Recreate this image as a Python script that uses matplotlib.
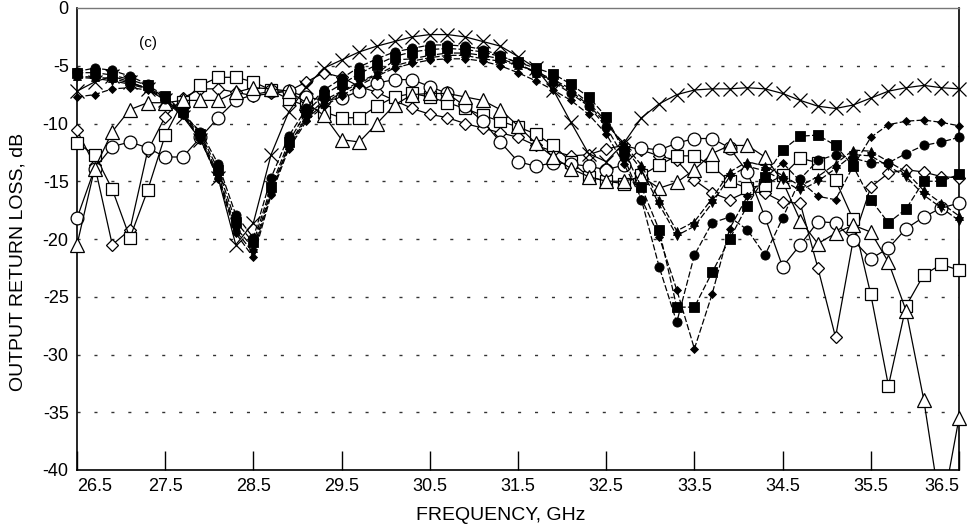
import numpy as np
import matplotlib
matplotlib.use("Agg")
import matplotlib.pyplot as plt
from matplotlib.patches import Rectangle

plt.rcParams['font.family'] = ['Liberation Sans', 'DejaVu Sans']
plt.rcParams['axes.unicode_minus'] = False

freq = np.round(np.arange(26.5, 36.55, 0.2), 1)

open_cross = [-7.2,-6.4,-5.9,-6.4,-7.0,-8.0,-9.4,-11.4,-14.7,-20.5,
              -18.6,-12.7,-9.0,-6.8,-5.2,-4.5,-3.8,-3.3,-2.9,-2.5,
              -2.3,-2.3,-2.5,-2.9,-3.3,-4.2,-5.2,-7.1,-9.9,-12.6,
              -13.3,-11.7,-9.5,-8.3,-7.5,-7.1,-7.0,-7.0,-6.9,-7.0,
              -7.4,-8.0,-8.5,-8.7,-8.4,-7.8,-7.2,-6.9,-6.7,-6.9,
              -7.0]
open_circle = [-18.2,-13.9,-12.0,-11.6,-12.1,-12.9,-12.9,-11.2,-9.5,-8.0,
               -7.5,-7.2,-7.2,-7.7,-8.0,-7.8,-7.2,-6.5,-6.2,-6.2,
               -6.8,-7.4,-8.5,-9.8,-11.6,-13.3,-13.7,-13.4,-13.5,-13.7,
               -14.0,-13.6,-12.1,-12.3,-11.7,-11.3,-11.3,-12.1,-14.2,-18.1,
               -22.4,-20.5,-18.5,-18.6,-20.1,-21.7,-20.8,-19.1,-18.1,-17.3,
               -16.9]
open_square = [-11.7,-12.7,-15.7,-19.9,-15.8,-11.0,-8.1,-6.7,-6.0,-6.0,
               -6.4,-7.1,-7.9,-8.5,-9.0,-9.5,-9.5,-8.5,-7.7,-7.4,
               -7.7,-8.2,-8.7,-9.3,-9.8,-10.3,-10.9,-11.9,-13.3,-14.6,
               -15.0,-15.2,-14.5,-13.6,-12.8,-12.8,-13.7,-15.0,-15.6,-15.3,
               -14.5,-13.0,-13.4,-14.9,-18.3,-24.8,-32.7,-25.8,-23.1,-22.2,
               -22.7]
open_triangle = [-20.5,-13.9,-10.7,-8.8,-8.2,-8.2,-8.0,-8.0,-8.0,-7.3,
                 -6.9,-7.0,-7.2,-8.2,-9.3,-11.4,-11.6,-10.0,-8.4,-7.5,
                 -7.4,-7.4,-7.7,-8.0,-8.8,-10.2,-11.7,-12.9,-13.9,-14.6,
                 -15.0,-15.0,-14.6,-15.6,-15.1,-14.0,-12.6,-11.9,-11.9,-12.9,
                 -15.0,-18.4,-20.4,-19.5,-18.8,-19.4,-22.0,-26.2,-33.9,-43.8,
                 -35.5]
open_diamond = [-10.6,-13.6,-20.5,-19.2,-12.4,-9.4,-7.8,-7.0,-7.0,-7.3,
                -7.6,-7.4,-7.2,-6.4,-5.6,-6.0,-6.8,-7.3,-8.0,-8.7,
                -9.2,-9.5,-10.0,-10.4,-10.8,-11.2,-11.9,-12.4,-12.8,-12.7,
                -12.2,-11.9,-12.3,-12.8,-13.2,-14.9,-16.0,-16.6,-15.9,-16.0,
                -16.8,-16.9,-22.5,-28.5,-20.1,-15.5,-14.3,-14.0,-14.2,-14.6,
                -14.7]
filled_circle = [-5.5,-5.2,-5.4,-5.9,-6.6,-7.9,-9.2,-10.7,-13.5,-17.9,
                 -19.9,-14.7,-11.1,-8.7,-7.1,-6.1,-5.1,-4.4,-3.8,-3.5,
                 -3.2,-3.2,-3.3,-3.6,-4.1,-4.8,-5.6,-6.4,-7.4,-8.5,
                 -10.3,-12.9,-16.6,-22.4,-27.2,-21.4,-18.6,-18.1,-19.2,-21.4,
                 -18.2,-14.8,-13.2,-12.7,-13.0,-13.4,-13.4,-12.6,-11.9,-11.6,
                 -11.2]
filled_square = [-5.6,-5.6,-5.8,-6.2,-6.7,-7.6,-9.0,-10.9,-14.0,-18.5,
                 -20.3,-15.5,-11.6,-9.0,-7.5,-6.6,-5.7,-4.9,-4.2,-3.8,
                 -3.6,-3.5,-3.6,-3.8,-4.2,-4.7,-5.2,-5.7,-6.6,-7.7,
                 -9.4,-12.4,-15.5,-19.2,-25.9,-25.9,-22.9,-20.0,-17.1,-14.6,
                 -12.3,-11.1,-11.0,-11.9,-13.7,-16.6,-18.6,-17.4,-15.0,-15.0,
                 -14.4]
filled_triangle = [-5.9,-6.0,-6.1,-6.5,-6.9,-7.7,-9.1,-11.1,-14.4,-19.0,
                   -20.8,-15.8,-11.9,-9.4,-8.0,-7.2,-6.4,-5.7,-4.5,-4.4,
                   -4.1,-3.9,-3.9,-4.1,-4.4,-4.9,-5.6,-6.3,-7.2,-8.4,
                   -10.0,-11.8,-13.6,-16.6,-19.3,-18.5,-16.5,-14.2,-13.3,-13.7,
                   -14.5,-15.4,-14.6,-13.5,-12.3,-12.4,-13.3,-14.2,-15.8,-16.9,
                   -18.0]
filled_tri_down = [-6.0,-6.1,-6.3,-6.6,-7.0,-7.8,-9.2,-11.3,-14.6,-19.3,
                   -21.2,-16.0,-12.0,-9.6,-8.3,-7.3,-6.5,-5.8,-5.0,-4.6,
                   -4.3,-4.1,-4.1,-4.4,-4.6,-4.9,-5.5,-6.2,-7.0,-8.2,
                   -9.8,-12.0,-14.0,-17.0,-19.7,-18.9,-16.9,-14.6,-13.7,-14.1,
                   -14.9,-15.8,-15.0,-13.9,-12.7,-12.8,-13.7,-14.6,-16.2,-17.3,
                   -18.4]
filled_diamond = [-7.7,-7.5,-7.0,-6.9,-7.1,-7.9,-9.3,-11.4,-14.8,-19.5,
                  -21.6,-16.2,-12.2,-9.8,-8.5,-7.6,-6.7,-5.9,-5.2,-4.8,
                  -4.5,-4.4,-4.4,-4.6,-5.0,-5.6,-6.3,-7.1,-8.0,-9.2,
                  -10.9,-13.5,-16.5,-19.8,-24.4,-29.5,-24.8,-19.1,-16.3,-14.7,
                  -13.4,-15.0,-16.3,-16.6,-13.7,-11.2,-10.1,-9.8,-9.7,-9.9,
                  -10.2]

yticks = [0, -5, -10, -15, -20, -25, -30, -35, -40]
xticks = [26.5, 27.5, 28.5, 29.5, 30.5, 31.5, 32.5, 33.5, 34.5, 35.5, 36.5]

fig = plt.figure(figsize=(9.67, 5.29), dpi=100)
ax = fig.add_axes([77/967, 1-470/529, (959-77)/967, (470-8)/529])
ax.set_xlim(26.5, 36.5)
ax.set_ylim(-40, 0)

for yv in yticks[1:-1]:
    ax.axhline(yv, color='#333333', lw=1.0, linestyle=(0, (2.2, 10)), zorder=1)

clip = Rectangle((-0.03, 0), 1.06, 1.0, transform=ax.transAxes)

open_kw = dict(color='black', mfc='white', mec='black', mew=0.9, lw=0.9)
filled_kw = dict(color='black', mfc='black', mec='black', mew=0.6, lw=0.9,
                 dashes=(5, 1.8))

series = [
    (open_diamond, 'D', 6.2, open_kw),
    (open_square, 's', 8.6, open_kw),
    (open_circle, 'o', 9.2, open_kw),
    (open_triangle, '^', 9.4, open_kw),
    (open_cross, 'x', 10.0, dict(color='black', mec='black', mew=0.9, lw=0.9)),
    (filled_diamond, 'D', 3.8, filled_kw),
    (filled_tri_down, 'v', 5.8, filled_kw),
    (filled_triangle, '^', 6.4, filled_kw),
    (filled_square, 's', 7.0, filled_kw),
    (filled_circle, 'o', 6.6, filled_kw),
]
for vals, m, ms, kw in series:
    ln, = ax.plot(freq, vals, marker=m, ms=ms, zorder=3, **kw)
    ln.set_clip_path(clip)

ax.set_xticks(xticks)
ax.set_xticklabels([f"{t:.1f}" for t in xticks])
ax.set_yticks(yticks)
ax.set_yticklabels([str(t) for t in yticks])
ax.tick_params(axis='x', direction='in', length=14, width=1.0, labelsize=13, pad=6,
               top=False)
ax.tick_params(axis='y', length=0, labelsize=13, pad=6)
xl = ax.get_xticklabels()
xl[0].set_horizontalalignment('left')
xl[-1].set_horizontalalignment('right')

for s in ['left', 'bottom', 'right']:
    ax.spines[s].set_linewidth(1.2)
ax.spines['top'].set_linewidth(1.0)
ax.spines['top'].set_color('#777777')

ax.text(27.3, -3.0, '(c)', fontsize=11, ha='center', va='center')
fig.text(501/967, 1-515/529, 'FREQUENCY, GHz', fontsize=14, ha='center', va='center')
fig.text(18/967, 1-262/529, 'OUTPUT RETURN LOSS, dB', fontsize=14, rotation=90,
         ha='center', va='center')

fig.savefig('out.png', dpi=100)
